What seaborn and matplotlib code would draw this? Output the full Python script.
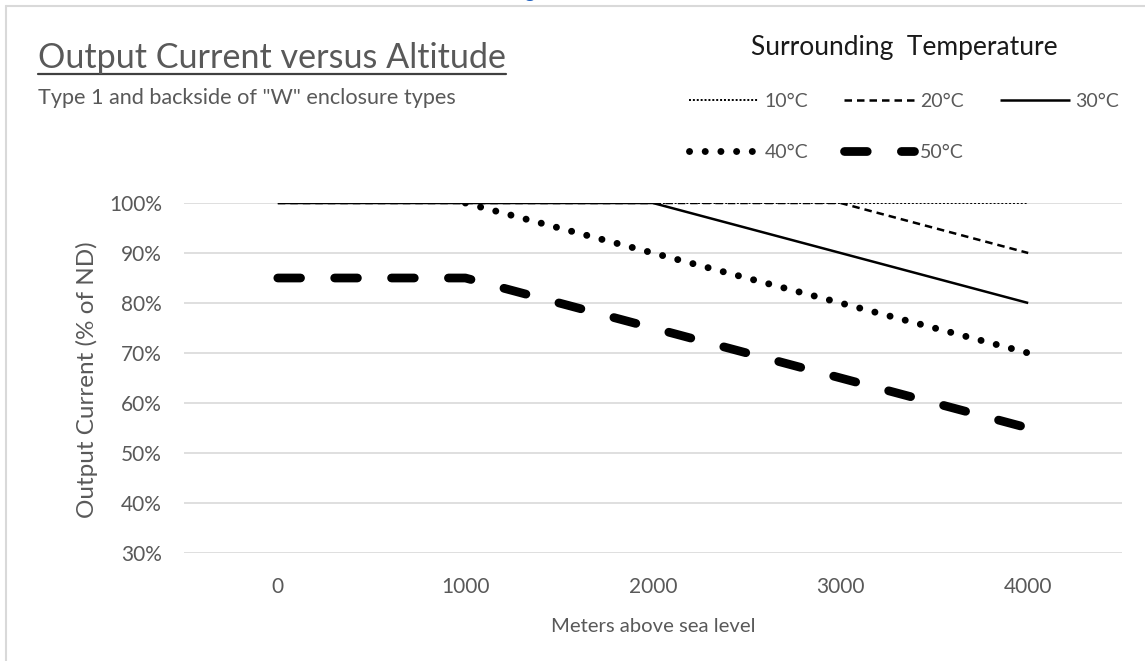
"""
Output current derating vs altitude, Excel-style line chart
"""
import matplotlib
matplotlib.use("Agg")
import matplotlib.pyplot as plt
from matplotlib.lines import Line2D
from matplotlib.ticker import PercentFormatter
import numpy as np
import pandas as pd
import seaborn as sns

# data (40°C series starts at 1000 m)
altitude = [0, 1000, 2000, 3000, 4000]
temps = ["10°C", "20°C", "30°C", "40°C", "50°C"]
cur_10 = [1.00, 1.00, 1.00, 1.00, 1.00]
cur_20 = [1.00, 1.00, 1.00, 1.00, 0.90]
cur_30 = [1.00, 1.00, 1.00, 0.90, 0.80]
cur_40 = [np.nan, 1.00, 0.90, 0.80, 0.70]
cur_50 = [0.85, 0.85, 0.75, 0.65, 0.55]
y_ticks = [0.3, 0.4, 0.5, 0.6, 0.7, 0.8, 0.9, 1.0]

df = pd.DataFrame({"altitude": altitude * 5,
                   "temp": [t for t in temps for _ in altitude],
                   "current": cur_10 + cur_20 + cur_30 + cur_40 + cur_50})

sns.set_theme(style="white")
plt.rcParams["font.family"] = ["Lato", "DejaVu Sans"]

W, H = 1145, 661
TXT = "#595959"

# line looks per series: (linewidth, dash pattern, capstyle)
styles = {
    "10°C": (1.4, (0, (1.0, 1.0)), "butt"),
    "20°C": (1.8, (0, (3.0, 2.0)), "butt"),
    "30°C": (1.8, "-", "butt"),
    "40°C": (5.0, (0, (0.01, 2.25)), "round"),
    "50°C": (6.3, (0, (2.6, 3.9)), "round"),
}

fig = plt.figure(figsize=(W / 100, H / 100), dpi=100)
ax = fig.add_axes([184 / W, (H - 553) / H, 938 / W, 350 / H])

for t in temps:
    lw, ls, cap = styles[t]
    sub = df[df["temp"] == t].dropna()
    sns.lineplot(data=sub, x="altitude", y="current", ax=ax, color="black",
                 linewidth=lw, linestyle=ls, dash_capstyle=cap,
                 solid_capstyle="butt", label=t, legend=False, zorder=3)

ax.set_xlim(-500, 4500)
ax.set_ylim(0.30, 1.00)
ax.set_xticks(altitude)
ax.set_yticks(y_ticks)
ax.yaxis.set_major_formatter(PercentFormatter(1.0, decimals=0))
ax.grid(axis="y", color="#d9d9d9", linewidth=1.2)
ax.grid(axis="x", visible=False)
for s in ax.spines.values():
    s.set_visible(False)
ax.tick_params(axis="both", length=0, labelsize=15, labelcolor=TXT)
ax.tick_params(axis="y", pad=16)
ax.tick_params(axis="x", pad=17)
ax.set_xlabel("")
ax.set_ylabel("")

fig.text(653 / W, 1 - 627 / H, "Meters above sea level", ha="center", va="center",
         fontsize=14.6, color=TXT)
fig.text(87 / W, 1 - 380 / H, "Output Current (% of ND)", ha="center", va="center",
         rotation=90, fontsize=17.5, color=TXT)

# title + underline, subtitle
title = fig.text(38 / W, 1 - 68 / H, "Output Current versus Altitude", ha="left",
                 va="baseline", fontsize=24.6, color=TXT)
fig.text(38 / W, 1 - 104 / H, 'Type 1 and backside of "W" enclosure types', ha="left",
         va="baseline", fontsize=15.6, color=TXT)
fig.canvas.draw()
bb = title.get_window_extent()
fig.add_artist(Line2D([bb.x0 / W, bb.x1 / W], [1 - 74 / H, 1 - 74 / H],
                      transform=fig.transFigure, color="#404040", linewidth=1.6))

# legend: filled column-wise, so reorder to read 10 20 30 / 40 50 by row
handles, labels = ax.get_legend_handles_labels()
order = [0, 3, 1, 4, 2]
leg = fig.legend([handles[i] for i in order], [labels[i] for i in order],
                 title="Surrounding  Temperature", ncol=3,
                 loc="upper left", bbox_to_anchor=(679 / W, 1 - 25 / H),
                 frameon=False, fontsize=14, title_fontsize=19,
                 handlelength=3.6, handletextpad=0.3, columnspacing=1.85,
                 labelspacing=1.75, borderpad=0)
for txt in leg.get_texts():
    txt.set_color(TXT)
leg.get_title().set_color("#1a1a1a")
leg._legend_box.sep = 24

# chart border (top and left) and clipped heading glyph above
fig.add_artist(Line2D([6 / W, 1.0], [1 - 6 / H, 1 - 6 / H], transform=fig.transFigure,
                      color="#d9d9d9", linewidth=1.5))
fig.add_artist(Line2D([6 / W, 6 / W], [0.0, 1 - 6 / H], transform=fig.transFigure,
                      color="#d9d9d9", linewidth=1.5))
fig.text(530 / W, 1.003, "g", ha="center", va="baseline", fontsize=14,
         color="#1f5fbf", fontweight="bold")

fig.savefig("out.png", dpi=100)
